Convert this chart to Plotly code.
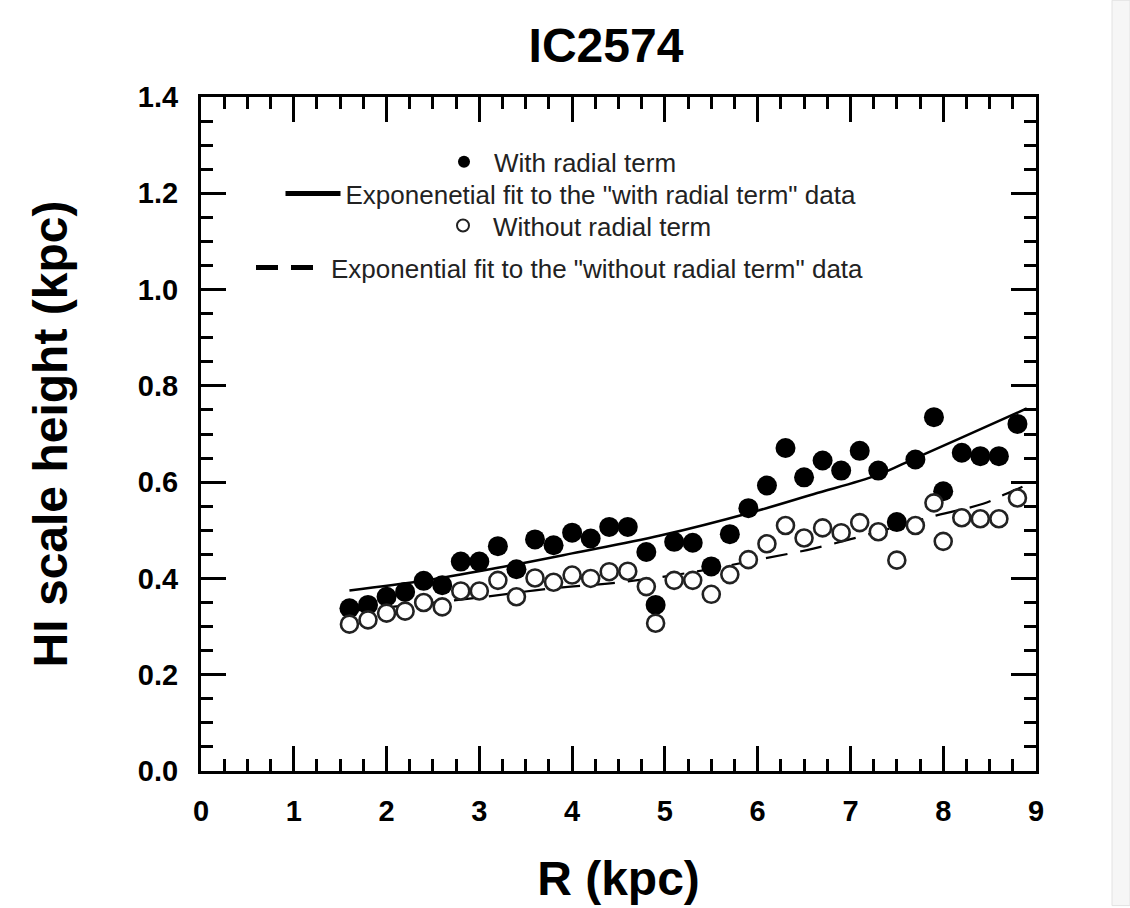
import plotly.graph_objects as go

# ---- data ----
r_with = [1.6, 1.8, 2.0, 2.2, 2.4, 2.6, 2.8, 3.0, 3.2, 3.4, 3.6, 3.8, 4.0, 4.2, 4.4, 4.6, 4.8, 4.9,
          5.1, 5.3, 5.5, 5.7, 5.9, 6.1, 6.3, 6.5, 6.7, 6.9, 7.1, 7.3, 7.5, 7.7, 7.9, 8.0, 8.2, 8.4, 8.6, 8.8]
h_with = [0.338, 0.345, 0.362, 0.372, 0.395, 0.386, 0.435, 0.435, 0.467, 0.419, 0.481, 0.469, 0.495,
          0.483, 0.507, 0.507, 0.455, 0.345, 0.476, 0.474, 0.425, 0.492, 0.546, 0.593, 0.671, 0.610,
          0.645, 0.624, 0.665, 0.624, 0.517, 0.647, 0.735, 0.581, 0.661, 0.654, 0.654, 0.721]

r_without = r_with
h_without = [0.305, 0.314, 0.328, 0.332, 0.350, 0.341, 0.374, 0.374, 0.396, 0.362, 0.401, 0.392, 0.407,
             0.400, 0.414, 0.415, 0.383, 0.307, 0.396, 0.396, 0.367, 0.408, 0.439, 0.472, 0.510, 0.484,
             0.505, 0.495, 0.516, 0.497, 0.438, 0.510, 0.557, 0.477, 0.526, 0.524, 0.524, 0.567]

# exponential fit curves
r_fit_with = [1.6, 2.4, 3.2, 4.0, 4.95, 5.95, 6.6, 7.28, 7.7, 8.18, 8.9]
h_fit_with = [0.375, 0.395, 0.422, 0.452, 0.489, 0.538, 0.575, 0.614, 0.650, 0.691, 0.753]

r_fit_without = [1.6, 2.94, 3.76, 4.52, 5.3, 6.06, 6.6, 7.3, 7.93, 8.43, 8.68, 8.95]
h_fit_without = [0.332, 0.359, 0.379, 0.392, 0.413, 0.441, 0.462, 0.497, 0.531, 0.555, 0.576, 0.598]

x_ticks = [0, 1, 2, 3, 4, 5, 6, 7, 8, 9]
y_ticks = [0.0, 0.2, 0.4, 0.6, 0.8, 1.0, 1.2, 1.4]

FONT = "Liberation Sans, Arial, sans-serif"

fig = go.Figure()

fig.add_trace(go.Scatter(
    x=r_fit_with, y=h_fit_with, mode="lines", line_shape="spline",
    line=dict(color="black", width=2.5),
    name='Exponenetial fit to the "with radial term" data', legend="legend2"))

fig.add_trace(go.Scatter(
    x=r_fit_without, y=h_fit_without, mode="lines", line_shape="spline",
    line=dict(color="black", width=2.2, dash="22px,13px"),
    name='Exponential fit to the "without radial term" data', legend="legend4"))

fig.add_trace(go.Scatter(
    x=r_with, y=h_with, mode="markers",
    marker=dict(symbol="circle", size=20, color="black", line=dict(width=0)),
    name="With radial term", legend="legend"))

fig.add_trace(go.Scatter(
    x=r_without, y=h_without, mode="markers",
    marker=dict(symbol="circle", size=17, color="white", line=dict(color="#222", width=2.6)),
    name="Without radial term", legend="legend3"))

L, R, T, B = 201, 94, 97, 135
pw = 1130 - L - R
ph = 908 - T - B


def px_x(px):
    return (px - L) / pw


def px_y(py):
    return (908 - B - py) / ph


def leg(cx, cy, itemwidth):
    return dict(x=px_x(cx), y=px_y(cy), xanchor="center", yanchor="middle",
                bgcolor="rgba(0,0,0,0)", font=dict(family=FONT, size=26, color="#222"),
                itemsizing="constant", borderwidth=0, itemwidth=itemwidth)


fig.update_layout(
    width=1130, height=908,
    margin=dict(l=L, r=R, t=T, b=B),
    paper_bgcolor="white", plot_bgcolor="white",
    font=dict(family=FONT, color="black"),
    title=dict(text="IC2574", x=px_x(606), xref="paper", xanchor="center",
               y=1 - 45 / 908, yref="container", yanchor="middle",
               font=dict(family=FONT, size=48, weight="bold", color="black")),
    showlegend=True,
    legend=leg(558, 162, 50),
    legend2=leg(571, 194, 55),
    legend3=leg(575, 226, 50),
    legend4=leg(560, 268, 70),
)

axis_common = dict(
    showline=True, linewidth=3, linecolor="black", mirror="allticks",
    ticks="inside", ticklen=25, tickwidth=3, tickcolor="black",
    showgrid=False, zeroline=False,
    tickfont=dict(family=FONT, size=29, weight="bold", color="black"),
)

fig.update_xaxes(
    range=[0, 9], tickmode="array", tickvals=x_ticks, ticktext=[str(v) for v in x_ticks],
    minor=dict(dtick=0.25, tick0=0, ticks="inside", ticklen=12, tickwidth=3, tickcolor="black", showgrid=False),
    ticklabelstandoff=12,
    title=dict(text="R (kpc)", font=dict(family=FONT, size=48, weight="bold", color="black"), standoff=36),
    **axis_common)

fig.update_yaxes(
    range=[0, 1.4], tickmode="array", tickvals=y_ticks, ticktext=[f"{v:.1f}" for v in y_ticks],
    minor=dict(dtick=0.05, tick0=0, ticks="inside", ticklen=12, tickwidth=3, tickcolor="black", showgrid=False),
    ticklabelstandoff=14,
    title=dict(text="HI scale height (kpc)", font=dict(family=FONT, size=48, weight="bold", color="black"), standoff=56),
    **axis_common)

# faint page edge at the right of the picture
fig.add_shape(type="rect", xref="paper", yref="paper",
              x0=px_x(1112), x1=px_x(1130), y0=px_y(908), y1=px_y(0),
              fillcolor="#f6f6f6", line=dict(color="#e2e2e2", width=1), layer="below")

fig.write_html("out.html")
